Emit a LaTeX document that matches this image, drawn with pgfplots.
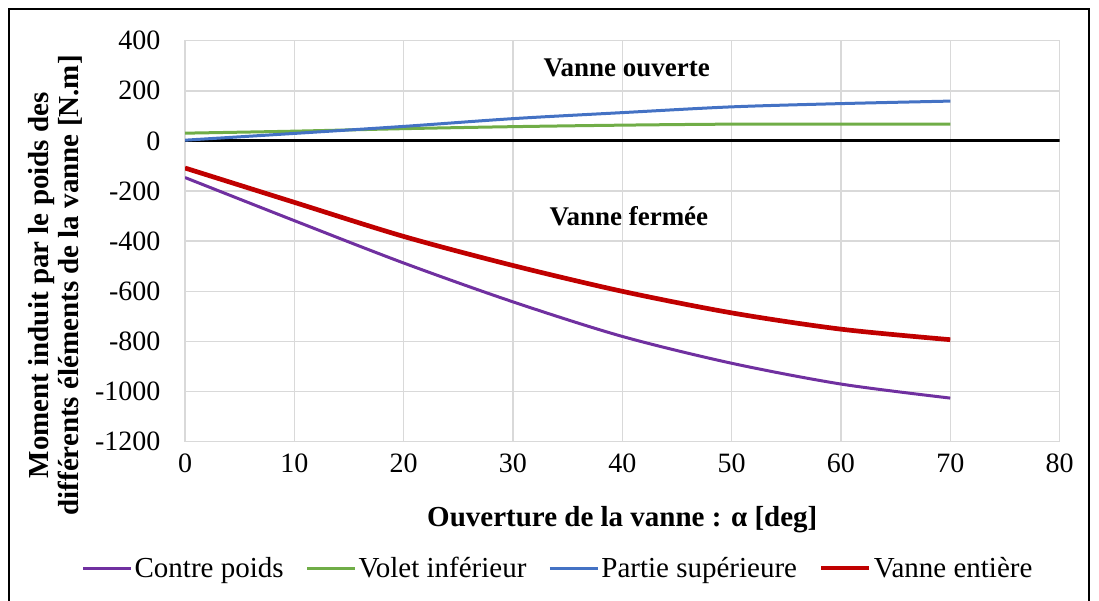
\documentclass[border=0pt]{standalone}
\usepackage{pgfplots}
\pgfplotsset{compat=1.18}
\usepackage{fontspec}
\setmainfont{Liberation Serif}
\definecolor{cpurple}{HTML}{7030A0}
\definecolor{cgreen}{HTML}{70AD47}
\definecolor{cblue}{HTML}{4472C4}
\definecolor{cred}{HTML}{C00000}
\definecolor{gridgray}{HTML}{D9D9D9}
\begin{document}
\begin{tikzpicture}
\useasboundingbox (0pt,0pt) rectangle (1099pt,601pt);
\draw[line width=1.5pt] (9pt,-2pt) -- (9pt,592pt) -- (1089pt,592pt) -- (1089pt,-2pt);
\begin{axis}[
  at={(185pt,159.3pt)}, anchor=south west,
  scale only axis, width=874.6pt, height=401pt,
  xmin=0, xmax=80, ymin=-1200, ymax=400,
  xtick={0,10,...,80}, xticklabels={0,10,20,30,40,50,60,70,80},
  ytick={-1200,-1000,...,400},
  yticklabels={-1200,-1000,-800,-600,-400,-200,0,200,400},
  grid=major, grid style={gridgray, line width=1.5pt},
  axis line style={gridgray, line width=1.5pt},
  major tick length=0pt,
  tick label style={font=\fontsize{28}{31}\selectfont},
  xticklabel style={yshift=-9pt},
  yticklabel style={xshift=-21pt},
  xlabel={Ouverture de la vanne : α [deg]},
  xlabel style={font=\bfseries\fontsize{29}{32}\selectfont, at={(axis description cs:0.5,-0.195)}, anchor=center},
  ylabel={Moment induit par le poids des\\différents éléments de la vanne [N.m]},
  ylabel style={align=center, font=\bfseries\fontsize{29}{30}\selectfont, at={(axis description cs:-0.148,0.39)}, anchor=center},
  legend style={at={(axis description cs:0.4265,-0.315)}, anchor=center, draw=none,
    font=\fontsize{29}{32}\selectfont, /tikz/every even column/.append style={column sep=20pt}},
  legend columns=4,
  legend image code/.code={\draw[#1] (0pt,0pt) -- (48pt,0pt);},
]
\addplot[black, line width=3pt, forget plot] coordinates {(0,0) (80,0)};
\addplot[cpurple, line width=3pt, smooth] coordinates {
(0,-146) (10,-318) (20,-487) (30,-642) (40,-780) (50,-887) (60,-970) (70,-1026)};
\addlegendentry{Contre poids}
\addplot[cgreen, line width=3pt, smooth] coordinates {
(0,31) (10,39) (20,49) (30,57) (40,63) (50,67) (60,67) (70,67)};
\addlegendentry{Volet inférieur}
\addplot[cblue, line width=3pt, smooth] coordinates {
(0,3) (10,30) (20,58) (30,89) (40,113) (50,136) (60,149) (70,159)};
\addlegendentry{Partie supérieure}
\addplot[cred, line width=4.7pt, smooth] coordinates {
(0,-108) (10,-245) (20,-381) (30,-497) (40,-600) (50,-686) (60,-751) (70,-793)};
\addlegendentry{Vanne entière}
\node[font=\bfseries\fontsize{27}{30}\selectfont] at (axis cs:40.4,291) {Vanne ouverte};
\node[font=\bfseries\fontsize{27}{30}\selectfont] at (axis cs:40.6,-299) {Vanne fermée};
\end{axis}
\end{tikzpicture}
\end{document}
